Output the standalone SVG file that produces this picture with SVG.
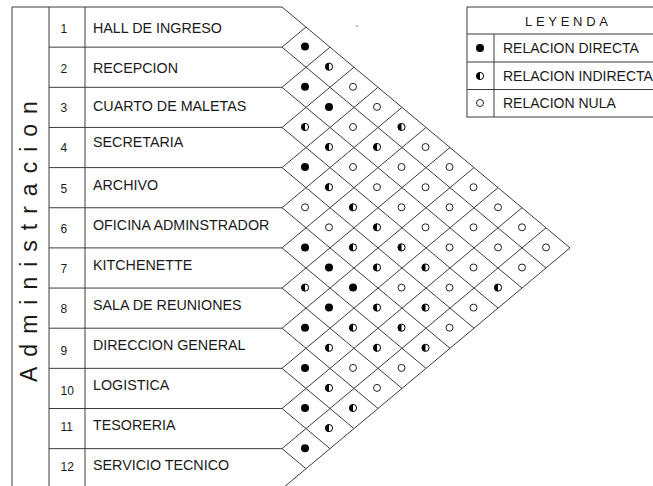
<svg xmlns="http://www.w3.org/2000/svg" xmlns:xlink="http://www.w3.org/1999/xlink" width="653" height="486" viewBox="0 0 653 486">
<style>
.ln{stroke:#3c3c3c;stroke-width:1;fill:none}
.t{font-family:"Liberation Sans",Arial,sans-serif;fill:#1a1a1a}
.name{font-size:14.3px}
.num{font-size:12px}
.lg{font-size:14px}
</style>
<defs>
<g id="full"><circle r="4" fill="#000"/></g>
<g id="half"><circle r="3.6" fill="#fff" stroke="#000" stroke-width="1"/><path d="M0,-3.6 A3.6,3.6 0 0 0 0,3.6 Z" fill="#000"/></g>
<g id="nul"><circle r="3.5" fill="#fff" stroke="#222" stroke-width="1"/></g>
</defs>
<rect width="653" height="486" fill="#fff"/>
<g id="table" class="ln">
<path d="M12,7H282M12,7V489M49,7V489M85,7V489"/>
<path d="M49,47.15H282M49,87.3H282M49,127.45H282M49,167.6H282M49,207.75H282M49,247.9H282M49,288.05H282M49,328.2H282M49,368.35H282M49,408.5H282M49,448.65H282M49,488.8H282"/>
</g>
<text class="t" font-size="23" letter-spacing="10" transform="translate(37,382) rotate(-90)">Administracion</text>
<g id="row1"><text class="t num" x="60.5" y="33">1</text><text class="t name" x="93" y="32.7">HALL DE INGRESO</text></g>
<g id="row2"><text class="t num" x="60.5" y="73">2</text><text class="t name" x="93" y="73.3">RECEPCION</text></g>
<g id="row3"><text class="t num" x="60.5" y="112">3</text><text class="t name" x="93" y="111">CUARTO DE MALETAS</text></g>
<g id="row4"><text class="t num" x="60.5" y="152">4</text><text class="t name" x="93" y="146.7">SECRETARIA</text></g>
<g id="row5"><text class="t num" x="60.5" y="193">5</text><text class="t name" x="93" y="190">ARCHIVO</text></g>
<g id="row6"><text class="t num" x="60.5" y="233">6</text><text class="t name" x="93" y="230">OFICINA ADMINSTRADOR</text></g>
<g id="row7"><text class="t num" x="60.5" y="273">7</text><text class="t name" x="93" y="270">KITCHENETTE</text></g>
<g id="row8"><text class="t num" x="60.5" y="313">8</text><text class="t name" x="93" y="310">SALA DE REUNIONES</text></g>
<g id="row9"><text class="t num" x="60.5" y="355">9</text><text class="t name" x="93" y="350">DIRECCION GENERAL</text></g>
<g id="row10"><text class="t num" x="60.5" y="395">10</text><text class="t name" x="93" y="390">LOGISTICA</text></g>
<g id="row11"><text class="t num" x="60.5" y="431">11</text><text class="t name" x="93" y="430">TESORERIA</text></g>
<g id="row12"><text class="t num" x="60.5" y="471">12</text><text class="t name" x="93" y="470">SERVICIO TECNICO</text></g>
<g id="connectors" class="ln">
<path d="M282,7L570,247.9M282,47.15L546,268M282,87.3L522,288.05M282,127.45L498,308.1M282,167.6L474,328.2M282,207.75L450,348.3M282,247.9L426,368.35M282,288.05L402,388.4M282,328.2L378,408.5M282,368.35L354,428.6M282,408.5L330,448.65M282,448.65L306,468.7"/>
<path d="M282,47.15L306,27.1M282,87.3L330,47.15M282,127.45L354,67.2M282,167.6L378,87.3M282,207.75L402,107.4M282,247.9L426,127.45M282,288.05L450,147.5M282,328.2L474,167.6M282,368.35L498,187.7M282,408.5L522,207.75M282,448.65L546,227.8M282,488.8L570,247.9"/>
</g>
<g id="cells">
<use xlink:href="#full" x="305" y="46.5"/>
<use xlink:href="#full" x="305" y="86.8"/>
<use xlink:href="#half" x="305" y="127"/>
<use xlink:href="#full" x="305" y="167"/>
<use xlink:href="#nul" x="305" y="207.3"/>
<use xlink:href="#full" x="305" y="247.4"/>
<use xlink:href="#half" x="305" y="287.6"/>
<use xlink:href="#full" x="305" y="327.7"/>
<use xlink:href="#full" x="305" y="367.9"/>
<use xlink:href="#full" x="305" y="408"/>
<use xlink:href="#full" x="305" y="448.2"/>
<use xlink:href="#half" x="329" y="66.7"/>
<use xlink:href="#full" x="329" y="106.9"/>
<use xlink:href="#half" x="329" y="147"/>
<use xlink:href="#half" x="329" y="187.2"/>
<use xlink:href="#nul" x="329" y="227.3"/>
<use xlink:href="#full" x="329" y="267.5"/>
<use xlink:href="#full" x="329" y="307.6"/>
<use xlink:href="#half" x="329" y="347.8"/>
<use xlink:href="#half" x="329" y="387.9"/>
<use xlink:href="#half" x="329" y="428.1"/>
<use xlink:href="#nul" x="353" y="86.8"/>
<use xlink:href="#nul" x="353" y="127"/>
<use xlink:href="#nul" x="353" y="167"/>
<use xlink:href="#half" x="353" y="207.3"/>
<use xlink:href="#half" x="353" y="247.4"/>
<use xlink:href="#full" x="353" y="287.6"/>
<use xlink:href="#half" x="353" y="327.7"/>
<use xlink:href="#nul" x="353" y="367.9"/>
<use xlink:href="#half" x="353" y="408"/>
<use xlink:href="#nul" x="377" y="106.9"/>
<use xlink:href="#half" x="377" y="147"/>
<use xlink:href="#nul" x="377" y="187.2"/>
<use xlink:href="#half" x="377" y="227.3"/>
<use xlink:href="#half" x="377" y="267.5"/>
<use xlink:href="#half" x="377" y="307.6"/>
<use xlink:href="#half" x="377" y="347.8"/>
<use xlink:href="#nul" x="377" y="387.9"/>
<use xlink:href="#half" x="401.5" y="127"/>
<use xlink:href="#nul" x="401.5" y="167"/>
<use xlink:href="#nul" x="401.5" y="207.3"/>
<use xlink:href="#half" x="401.5" y="247.4"/>
<use xlink:href="#nul" x="401.5" y="287.6"/>
<use xlink:href="#half" x="401.5" y="327.7"/>
<use xlink:href="#nul" x="401.5" y="367.9"/>
<use xlink:href="#nul" x="425.5" y="147"/>
<use xlink:href="#nul" x="425.5" y="187.2"/>
<use xlink:href="#nul" x="425.5" y="227.3"/>
<use xlink:href="#half" x="425.5" y="267.5"/>
<use xlink:href="#half" x="425.5" y="307.6"/>
<use xlink:href="#half" x="425.5" y="347.8"/>
<use xlink:href="#nul" x="449.5" y="167"/>
<use xlink:href="#nul" x="449.5" y="207.3"/>
<use xlink:href="#nul" x="449.5" y="247.4"/>
<use xlink:href="#nul" x="449.5" y="287.6"/>
<use xlink:href="#nul" x="449.5" y="327.7"/>
<use xlink:href="#nul" x="473.5" y="187.2"/>
<use xlink:href="#nul" x="473.5" y="227.3"/>
<use xlink:href="#nul" x="473.5" y="267.5"/>
<use xlink:href="#nul" x="473.5" y="307.6"/>
<use xlink:href="#nul" x="498" y="207.3"/>
<use xlink:href="#nul" x="498" y="247.4"/>
<use xlink:href="#half" x="498" y="287.6"/>
<use xlink:href="#nul" x="522" y="227.3"/>
<use xlink:href="#nul" x="522" y="267.5"/>
<use xlink:href="#nul" x="546" y="247.4"/>
</g>
<circle cx="357" cy="26" r="0.7" fill="#555"/>
<g id="legend">
<rect class="ln" x="467" y="7" width="200" height="110"/>
<path class="ln" d="M467,34H667M467,62H667M467,89.5H667M494,34V117"/>
<text class="t" font-size="13" x="525" y="25.5" letter-spacing="3.7">LEYENDA</text>
<use xlink:href="#full" x="480" y="48"/>
<use xlink:href="#half" x="480" y="76"/>
<use xlink:href="#nul" x="480" y="103"/>
<text class="t lg" x="503" y="53">RELACION DIRECTA</text>
<text class="t lg" x="503" y="81">RELACION INDIRECTA</text>
<text class="t lg" x="503" y="108">RELACION NULA</text>
</g>
</svg>
